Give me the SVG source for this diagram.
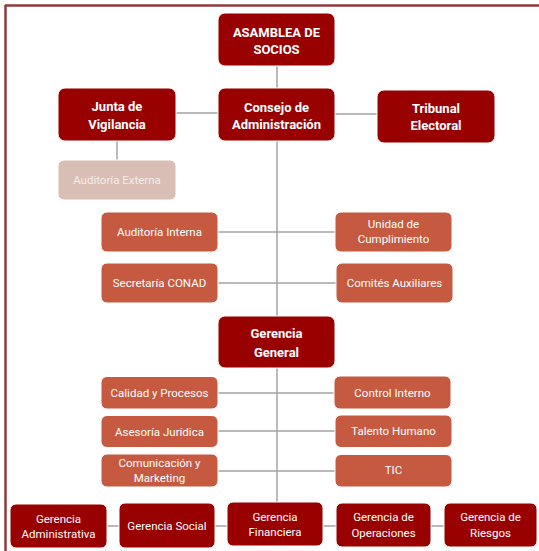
<svg xmlns="http://www.w3.org/2000/svg" width="539" height="551" viewBox="0 0 539 551">
<defs>
<style>
.dk{fill:#990000;stroke:#ffffff;stroke-width:1}
.or{fill:#C55A40;stroke:#ffffff;stroke-width:1}
.lt{fill:#D8BEB5;stroke:#ffffff;stroke-width:1}
.tb{font-family:Roboto,"Liberation Sans",sans-serif;font-weight:bold;font-size:13px;fill:#ffffff;text-anchor:middle}
.tr{font-family:Roboto,"Liberation Sans",sans-serif;font-size:11.5px;fill:#ffffff;text-anchor:middle}
.tl{font-family:Roboto,"Liberation Sans",sans-serif;font-size:11.5px;fill:#F5ECE9;text-anchor:middle}
.cn line{stroke:#A3A3A3;stroke-width:1.5}
</style>
</defs>
<rect width="539" height="551" fill="#ffffff"/>
<g id="frame" stroke="#8E3B3B" stroke-width="2.5">
<line x1="5" y1="5.5" x2="539" y2="5.5"/>
<line x1="5.5" y1="5" x2="5.5" y2="551"/>
</g>
<g id="connectors" class="cn">
<line x1="277" y1="66" x2="277" y2="88"/>
<line x1="176" y1="113" x2="218" y2="113"/>
<line x1="335" y1="114" x2="377" y2="114"/>
<line x1="117" y1="141" x2="117" y2="160"/>
<line x1="277" y1="141" x2="277" y2="316"/>
<line x1="277" y1="368" x2="277" y2="502"/>
<line x1="218" y1="232" x2="335" y2="232"/>
<line x1="218" y1="283" x2="336" y2="283"/>
<line x1="218" y1="393" x2="334" y2="393"/>
<line x1="218" y1="431" x2="335" y2="431"/>
<line x1="218" y1="471" x2="335" y2="471"/>
<line x1="107" y1="526" x2="119" y2="526"/>
<line x1="215" y1="526" x2="227" y2="526"/>
<line x1="323" y1="526" x2="336" y2="526"/>
<line x1="431" y1="526" x2="444" y2="526"/>
</g>
<g id="asamblea"><rect class="dk" x="218" y="13" width="117" height="53" rx="7"/><text class="tb" x="276.5" y="36.5">ASAMBLEA DE</text><text class="tb" x="276.5" y="54">SOCIOS</text></g>
<g id="consejo"><rect class="dk" x="218" y="88" width="117" height="53" rx="7"/><text class="tb" x="276.5" y="111.5">Consejo de</text><text class="tb" x="276.5" y="129">Administración</text></g>
<g id="junta"><rect class="dk" x="58" y="88" width="118" height="53" rx="7"/><text class="tb" x="117" y="110.5">Junta de</text><text class="tb" x="117" y="128.5">Vigilancia</text></g>
<g id="tribunal"><rect class="dk" x="377" y="90" width="118" height="53" rx="7"/><text class="tb" x="436" y="112.5">Tribunal</text><text class="tb" x="436" y="130">Electoral</text></g>
<g id="auditoria-externa"><rect class="lt" x="58" y="160" width="118" height="40" rx="6"/><text class="tl" x="117" y="184">Auditoría Externa</text></g>
<g id="auditoria-interna"><rect class="or" x="101" y="212" width="117" height="40" rx="6"/><text class="tr" x="159.5" y="236">Auditoría Interna</text></g>
<g id="unidad-cumplimiento"><rect class="or" x="335" y="212" width="117" height="40" rx="6"/><text class="tr" x="393.5" y="228">Unidad de</text><text class="tr" x="393.5" y="243">Cumplimiento</text></g>
<g id="secretaria"><rect class="or" x="101" y="263" width="117" height="40" rx="6"/><text class="tr" x="159.5" y="287">Secretaría CONAD</text></g>
<g id="comites"><rect class="or" x="336" y="263" width="117" height="40" rx="6"/><text class="tr" x="394.5" y="287">Comités Auxiliares</text></g>
<g id="gerencia-general"><rect class="dk" x="218" y="316" width="117" height="52" rx="7"/><text class="tb" x="276.5" y="337.5">Gerencia</text><text class="tb" x="276.5" y="356.5">General</text></g>
<g id="calidad"><rect class="or" x="101" y="376.5" width="117" height="32.5" rx="6"/><text class="tr" x="159.5" y="397">Calidad y Procesos</text></g>
<g id="control-interno"><rect class="or" x="334" y="376" width="117" height="33" rx="6"/><text class="tr" x="392.5" y="397">Control Interno</text></g>
<g id="asesoria"><rect class="or" x="101" y="415.5" width="117" height="32" rx="6"/><text class="tr" x="159.5" y="435.5">Asesoría Jurídica</text></g>
<g id="talento"><rect class="or" x="335" y="415" width="117" height="32.5" rx="6"/><text class="tr" x="393.5" y="435">Talento Humano</text></g>
<g id="comunicacion"><rect class="or" x="101" y="454" width="117" height="33" rx="6"/><text class="tr" x="159.5" y="466.5">Comunicación y</text><text class="tr" x="159.5" y="482">Marketing</text></g>
<g id="tic"><rect class="or" x="335" y="454.5" width="117" height="32.5" rx="6"/><text class="tr" x="393.5" y="474">TIC</text></g>
<g id="g-administrativa"><rect class="dk" x="10" y="504" width="97" height="44" rx="6"/><text class="tr" x="58.5" y="523">Gerencia</text><text class="tr" x="58.5" y="538">Administrativa</text></g>
<g id="g-social"><rect class="dk" x="119" y="503" width="96" height="45" rx="6"/><text class="tr" x="167" y="529.5">Gerencia Social</text></g>
<g id="g-financiera"><rect class="dk" x="227" y="502" width="96" height="44" rx="6"/><text class="tr" x="275" y="520.5">Gerencia</text><text class="tr" x="275" y="536">Financiera</text></g>
<g id="g-operaciones"><rect class="dk" x="336" y="503" width="95" height="44" rx="6"/><text class="tr" x="383.5" y="520.5">Gerencia de</text><text class="tr" x="383.5" y="537">Operaciones</text></g>
<g id="g-riesgos"><rect class="dk" x="444" y="503" width="93" height="44" rx="6"/><text class="tr" x="490.5" y="520.5">Gerencia de</text><text class="tr" x="490.5" y="537">Riesgos</text></g>
</svg>
